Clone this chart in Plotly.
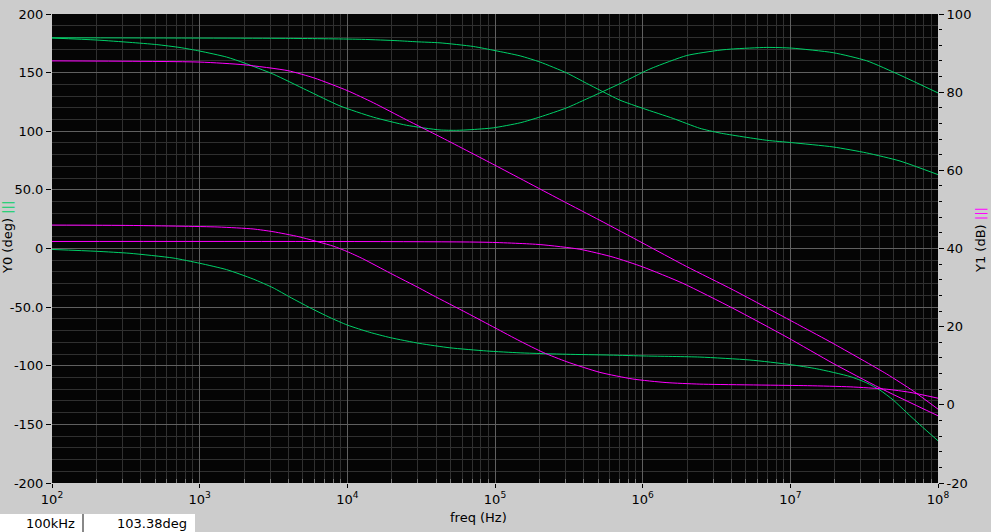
import plotly.graph_objects as go

# ---- data ----
# Phase traces (left axis, deg)
g1_freq = [1e2, 4.1e3, 1.25e4, 2.2e4, 2.95e4, 4.24e4, 7.13e4, 1e5, 1.48e5, 2.02e5, 3.05e5,
           4.18e5, 5.14e5, 7.02e5, 1.01e6, 1.61e6, 2.44e6, 3.34e6, 6.92e6, 1.02e7, 1.95e7,
           3.29e7, 5.53e7, 1e8]
g1_deg = [179.7, 179.2, 178.4, 177.2, 176.3, 175.4, 172.3, 168.8, 164.3, 159.0, 149.8,
          140.8, 135.0, 126.5, 119.4, 110.9, 102.5, 98.5, 92.3, 90.3, 86.6,
          81.5, 74.6, 63.0]

g2_freq = [1e2, 201, 337, 512, 736, 1.0e3, 1.52e3, 2.0e3, 3.15e3, 5.31e3, 8.92e3, 1.5e4,
           2.52e4, 4.24e4, 5.5e4, 6.77e4, 9.73e4, 1.48e5, 2.02e5, 3.05e5, 4.18e5, 7.02e5,
           1.01e6, 1.18e6, 1.99e6, 3.34e6, 4.11e6, 6.92e6, 1.02e7, 1.95e7, 3.29e7, 5.53e7, 1e8]
g2_deg = [179.5, 177.8, 175.8, 173.9, 171.4, 168.4, 163.3, 158.3, 148.7, 135.0, 121.6, 112.0,
          105.1, 101.1, 100.8, 101.3, 102.9, 107.2, 112.2, 119.9, 127.6, 140.6,
          150.5, 154.3, 164.6, 169.2, 170.2, 171.5, 170.9, 167.0, 160.1, 147.9, 132.7]

g3_freq = [1e2, 201, 337, 660, 1.0e3, 1.52e3, 2.3e3, 3.14e3, 4.09e3, 5.58e3, 7.63e3, 1e4,
           1.42e4, 1.95e4, 3.1e4, 4.95e4, 8.79e4, 1.48e5, 3.05e5, 6.01e5, 1.06e6, 2.44e6,
           5.33e6, 1e7, 1.51e7, 2.54e7, 3.29e7, 4.05e7, 4.98e7, 6.13e7, 7.55e7, 1e8]
g3_deg = [-0.8, -2.4, -4.1, -8.1, -12.6, -18.0, -26.0, -33.5, -41.5, -50.5, -58.9, -65.3,
          -71.5, -76.0, -81.0, -84.7, -87.4, -89.0, -90.2, -90.9, -91.7, -92.6,
          -95.1, -99.0, -102.6, -109.2, -114.6, -120.8, -129.3, -139.9, -150.4, -164.0]

# Magnitude traces (right axis, dB)
ma_freq = [1e2, 1.0e3, 2.0e3, 3.96e3, 6.0e3, 1e4, 1.5e4, 2.52e4, 4.24e4, 1e5, 2.83e5,
           5.14e5, 1e6, 1.98e6, 4.1e6, 1.16e7, 1.95e7, 4.49e7, 6.76e7, 1e8]
ma_db = [88.0, 87.7, 87.0, 85.5, 83.6, 80.4, 77.3, 72.9, 68.6, 61.3, 52.3,
         47.2, 41.4, 35.4, 29.4, 20.3, 15.7, 7.9, 3.6, -1.1]

mb_freq = [1e2, 337, 1.33e3, 2.3e3, 3.14e3, 4.7e3, 8.03e3, 1e4, 1.27e4, 1.95e4, 3.1e4,
           3.8e4, 6.46e4, 1e5, 1.48e5, 2.12e5, 3.07e5, 5.14e5, 8.59e5, 1.44e6, 2.44e6,
           1.31e7, 2.54e7, 4.49e7, 6.46e7, 1e8]
mb_db = [46.0, 45.9, 45.5, 45.0, 44.3, 43.0, 40.6, 39.2, 37.4, 33.7, 29.8,
         28.0, 23.5, 19.7, 16.3, 13.4, 11.0, 8.3, 6.6, 5.7, 5.3,
         4.9, 4.6, 4.0, 3.2, 1.7]

mc_freq = [1e2, 8.69e4, 2.02e5, 3.76e5, 6.3e5, 1e6, 1.87e6, 4.09e6, 9.5e6, 1.95e7, 4.05e7, 1e8]
mc_db = [41.8, 41.6, 41.0, 39.8, 37.8, 35.3, 31.1, 24.7, 17.3, 10.6, 4.3, -2.8]

# Axis ticks
x_tickvals = [1e2, 1e3, 1e4, 1e5, 1e6, 1e7, 1e8]
x_ticktext = ["10<sup>2</sup>", "10<sup>3</sup>", "10<sup>4</sup>", "10<sup>5</sup>",
              "10<sup>6</sup>", "10<sup>7</sup>", "10<sup>8</sup>"]
y0_tickvals = [200, 150, 100, 50, 0, -50, -100, -150, -200]
y0_ticktext = ["200", "150", "100", "50.0", "0", "-50.0", "-100", "-150", "-200"]
y1_tickvals = [100, 80, 60, 40, 20, 0, -20]
y1_ticktext = ["100", "80", "60", "40", "20", "0", "-20"]

cursor_freq = "100kHz"
cursor_val = "103.38deg"

# ---- style ----
GREEN = "#00d068"
MAGENTA = "#ff00ff"
BG = "#cccccc"
FONT = "DejaVu Sans"
W, H = 991, 532
L, R, T, B = 52, 53, 14, 49
PW, PH = W - L - R, H - T - B


def px(xp):
    return (xp - L) / PW


def py(yp):
    return (H - B - yp) / PH


fig = go.Figure()
for f, v in [(g1_freq, g1_deg), (g2_freq, g2_deg), (g3_freq, g3_deg)]:
    fig.add_trace(go.Scatter(x=f, y=v, mode="lines", yaxis="y",
                             line=dict(color=GREEN, width=1, shape="spline", smoothing=0.6),
                             showlegend=False, hoverinfo="skip"))
for f, v in [(ma_freq, ma_db), (mb_freq, mb_db), (mc_freq, mc_db)]:
    fig.add_trace(go.Scatter(x=f, y=v, mode="lines", yaxis="y2",
                             line=dict(color=MAGENTA, width=1, shape="spline", smoothing=0.6),
                             showlegend=False, hoverinfo="skip"))

minor_x = [m * 10 ** d for d in range(2, 8) for m in range(2, 10)]

fig.update_layout(
    width=W, height=H,
    margin=dict(l=L, r=R, t=T, b=B, autoexpand=False),
    paper_bgcolor=BG, plot_bgcolor="#050505",
    font=dict(family=FONT, size=13, color="black"),
    xaxis=dict(type="log", range=[2, 8], tickvals=x_tickvals, ticktext=x_ticktext,
               automargin=False,
               showgrid=True, gridcolor="#606060", gridwidth=1,
               ticks="outside", ticklen=4, tickcolor="black",
               zeroline=False, showline=False,
               minor=dict(tickvals=minor_x, showgrid=True, gridcolor="#303030", gridwidth=1,
                          ticks="inside", ticklen=4, tickcolor="#777777")),
    yaxis=dict(range=[-200, 200], tickvals=y0_tickvals, ticktext=y0_ticktext,
               automargin=False,
               showgrid=True, gridcolor="#606060", gridwidth=1, zeroline=False, showline=False,
               ticks="outside", ticklen=5, tickcolor="black",
               minor=dict(dtick=10, showgrid=True, gridcolor="#303030", gridwidth=1)),
    yaxis2=dict(range=[-20, 100], overlaying="y", side="right",
                tickvals=y1_tickvals, ticktext=y1_ticktext, automargin=False,
                showgrid=False, zeroline=False, showline=False,
                ticks="outside", ticklen=5, tickcolor="black",
                minor=dict(dtick=4, ticks="outside", ticklen=3, tickcolor="black",
                           showgrid=False)),
)

annotations = [
    dict(text='Y0 (deg) <span style="color:%s">|||</span>' % GREEN, textangle=-90,
         xref="paper", yref="paper", x=px(7), y=py(238), xanchor="center", yanchor="middle",
         showarrow=False, font=dict(size=13)),
    dict(text='Y1 (dB) <span style="color:%s">|||</span>' % MAGENTA, textangle=-90,
         xref="paper", yref="paper", x=px(980), y=py(240), xanchor="center", yanchor="middle",
         showarrow=False, font=dict(size=13)),
    dict(text="freq (Hz)", xref="paper", yref="paper", x=px(478), y=py(517.5),
         xanchor="center", yanchor="middle", showarrow=False, font=dict(size=13)),
    dict(text=cursor_freq, xref="paper", yref="paper", x=px(77), y=py(523.5),
         xanchor="right", yanchor="middle", showarrow=False, font=dict(size=13)),
    dict(text=cursor_val, xref="paper", yref="paper", x=px(189), y=py(523.5),
         xanchor="right", yanchor="middle", showarrow=False, font=dict(size=13)),
]
fig.update_layout(annotations=annotations)

shapes = [
    dict(type="rect", xref="paper", yref="paper", x0=px(0), x1=px(82), y0=py(532), y1=py(514),
         fillcolor="white", line=dict(width=0), layer="below"),
    dict(type="rect", xref="paper", yref="paper", x0=px(84), x1=px(195), y0=py(532), y1=py(514),
         fillcolor="white", line=dict(width=0), layer="below"),
    dict(type="line", xref="paper", yref="paper", x0=px(83), x1=px(83), y0=py(532), y1=py(514),
         line=dict(color="#444444", width=1), layer="below"),
]
fig.update_layout(shapes=shapes)

fig.write_html("out.html",
               config={"displayModeBar": False},
               post_script="document.body.style.margin='0';document.body.style.padding='0';"
                           "document.body.style.overflow='hidden';")
